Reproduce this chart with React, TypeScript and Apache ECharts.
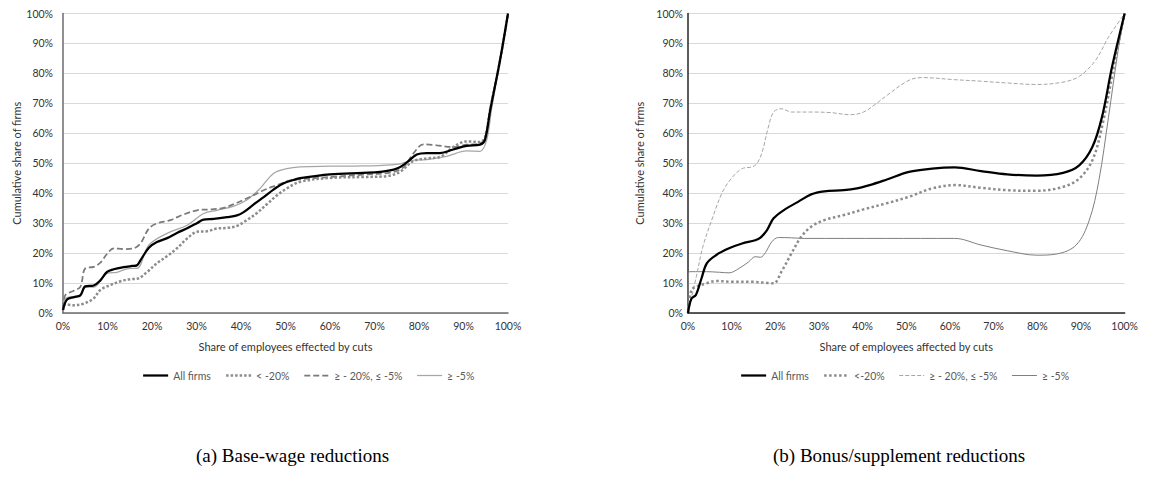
import React, { useEffect, useRef } from "react";
import * as echarts from "echarts";

// Panel (a): base-wage reductions  [share of employees %, cumulative share of firms %]
const baseAllFirms = [[0,1],[0.9,4.5],[2.5,5.3],[3.9,5.9],[5,8.9],[6.9,9.2],[8.4,10.9],[9.9,13.7],[11.4,14.6],[13.6,15.3],[15.5,15.7],[16.6,15.9],[17.4,17.6],[19.3,21.8],[21.1,23.7],[23.4,25],[25.6,26.7],[27.9,28.3],[30.1,30],[31.6,31.2],[33.9,31.4],[36.9,32],[39.1,32.6],[40.6,33.7],[42.8,36.2],[45.1,38.7],[47.3,41.2],[49.6,43.3],[51.8,44.4],[53.3,45],[60,46.3],[67.4,46.8],[71.2,47.1],[75,48.2],[77.2,50.2],[79.5,52.9],[81.7,53.4],[84.7,53.4],[87.7,54.6],[90.7,55.8],[93.7,56.2],[94.8,57.7],[96,67.7],[98.2,84.3],[100,100]];
const baseBelow20 = [[0,1],[0.5,2.9],[2.4,2.6],[4.6,3.1],[6.9,4.9],[8.4,7.7],[10.6,9.3],[12.9,10.6],[15.1,11.3],[16.6,11.4],[18.9,13.7],[21.1,16.6],[23.4,19],[25.6,21.6],[27.9,24.9],[30.1,27.1],[32.4,27.3],[34.6,28.2],[36.9,28.4],[39.1,29.1],[41.3,31],[43.6,33.4],[45.8,36.3],[48.1,39.3],[50.3,41.6],[53.3,43.8],[60,45.1],[67.4,45.4],[72.7,45.7],[75.7,47.1],[78.7,50.7],[81.7,51.6],[84.7,52.1],[87.7,55.4],[90.7,57.3],[93.7,57.1],[94.8,58.5],[96,68],[98.2,84.3],[100,100]];
const baseMid = [[0,1.5],[0.5,5.9],[2.5,7.5],[3.9,8.7],[5,14.9],[6.9,15.4],[8.4,16.8],[9.9,19.7],[11.4,21.6],[13.6,21.3],[15.9,21.6],[17.4,23.2],[19.3,28.2],[21.1,29.9],[24.1,31],[27.1,32.9],[30.1,34.3],[33.1,34.6],[36.1,35.1],[39.1,36.8],[42.1,38.8],[45.1,41],[48.1,42.7],[51.1,44.3],[53.3,44.7],[60,45.4],[67.4,46.2],[73.5,46.9],[76.5,48.6],[78.7,53.2],[81,56.3],[84,56],[87.7,55.4],[90.7,56.2],[93.7,56.6],[94.8,58],[96,68],[98.2,84.3],[100,100]];
const baseAbove5 = [[0,1],[0.5,4.8],[2.5,5.5],[3.9,6],[5,8.6],[6.9,8.6],[9.9,13.2],[12.1,13.6],[15.1,14.9],[16.6,14.9],[19.3,22.7],[23.4,26.6],[27.9,29.3],[31.6,33.2],[34.6,34.3],[38.4,35.7],[41.3,37.7],[44.3,41.6],[47.3,46.6],[50.3,48.2],[53.3,48.8],[60,49],[67.4,49.1],[75,49.6],[78.7,51],[81.7,51.2],[86.2,52.3],[90.7,54.1],[93.7,54],[95.2,57.7],[96.3,68],[98.2,84.3],[100,100]];

// Panel (b): bonus/supplement reductions
const bonusAllFirms = [[0,0],[0.8,4.8],[1.8,6],[3.1,11.6],[4.3,16.6],[6.4,19.3],[9.4,21.6],[12.4,23.2],[15.4,24.3],[16.6,25.2],[18.1,27.7],[19.6,31.6],[22.2,34.6],[25.2,37.1],[28.2,39.6],[31.2,40.6],[35.7,41],[38.7,41.6],[41.6,42.7],[45.4,44.5],[50.6,47.1],[55.9,48.2],[61.1,48.6],[67.1,47.4],[73.1,46.3],[79.9,45.9],[85.9,46.8],[89.6,49.3],[92.6,55.4],[94.8,65.4],[97.1,82.1],[100,100]];
const bonusBelow20 = [[0,0],[0.8,7.7],[1.9,8.8],[4.2,9.9],[6.4,10.7],[10.2,10.4],[14.7,10.4],[17.7,10.1],[19.6,9.9],[21.4,13.8],[23.7,19.9],[25.9,25.4],[28.2,28.8],[31.2,31],[35.7,32.7],[40.2,34.6],[45.4,36.6],[50.6,38.8],[55.9,41.6],[61.1,42.7],[67.1,41.8],[73.1,41],[79.9,40.8],[85.9,42.1],[89.6,44.9],[92.6,51],[94.8,62.1],[97.8,84.3],[100,100]];
const bonusMid = [[0,0],[1.9,12.1],[3.4,22.1],[5.7,32.1],[7.9,40.4],[10.2,45.4],[12.4,48.2],[14.7,48.8],[15.8,49.9],[17,53.8],[18.4,62.1],[19.6,67.1],[21.4,68.2],[23.7,67.1],[28.2,67.1],[32.7,66.9],[37.2,66.2],[40.2,67.1],[43.1,69.9],[45.4,72.5],[50.6,77.7],[53.6,78.6],[61.1,77.9],[67.1,77.4],[73.1,76.8],[79.9,76.3],[85.9,77.1],[89.6,79],[93.3,84.3],[96.3,92.1],[100,100]];
const bonusAbove5 = [[0,0],[0.2,13.8],[4.2,13.8],[7.2,13.6],[9.4,13.4],[11.7,14.9],[13.9,17.1],[15.4,18.8],[16.6,18.6],[17.7,20.1],[19.2,23.8],[20.7,25.2],[23.7,25.1],[26.7,24.9],[45.4,24.9],[61.1,24.9],[67.1,22.7],[73.1,20.8],[79.9,19.3],[84.4,19.7],[88.9,22.7],[91.9,31],[94.1,44.3],[96.3,65.4],[98.5,87.7],[100,100]];

const leftNames = ["All firms", "< -20%", "≥ - 20%, ≤ -5%", "≥ -5%"];
const rightNames = ["All firms", "<-20%", "≥ - 20%, ≤ -5%", "≥ -5%"];
const leftTitleX = "Share of employees effected by cuts";
const rightTitleX = "Share of employees affected by cuts";
const titleY = "Cumulative share of firms";
const captionA = "(a) Base-wage reductions";
const captionB = "(b) Bonus/supplement reductions";

const FONT = "Lato, 'Noto Sans', sans-serif";

const leftStyles = [
  { color: "#000000", width: 2.25, type: "solid" },
  { color: "#8c8c8c", width: 2.5, type: [2.5, 2] },
  { color: "#7a7a7a", width: 1.75, type: [6, 3] },
  { color: "#a6a6a6", width: 1.25, type: "solid" },
];
const rightStyles = [
  { color: "#000000", width: 2.25, type: "solid" },
  { color: "#8c8c8c", width: 2.5, type: [2.5, 2.5] },
  { color: "#a6a6a6", width: 1, type: [4, 2] },
  { color: "#7f7f7f", width: 1, type: "solid" },
];

function xAxis(gridIndex: number, name: string, color: string) {
  return {
    type: "value", gridIndex, min: 0, max: 100, interval: 10,
    name, nameLocation: "middle", nameGap: 28,
    nameTextStyle: { fontFamily: FONT, fontSize: 11, color: "#333333" },
    axisLine: { show: true, lineStyle: { color, width: 1.5 } },
    axisTick: { show: false },
    splitLine: { show: false },
    axisLabel: { formatter: "{value}%", fontFamily: FONT, fontSize: 10.5, color: "#333333", margin: 7 },
  };
}
function yAxis(gridIndex: number, color: string, margin: number, gap: number) {
  return {
    type: "value", gridIndex, min: 0, max: 100, interval: 10,
    name: titleY, nameLocation: "middle", nameGap: gap, nameRotate: 90,
    nameTextStyle: { fontFamily: FONT, fontSize: 11, color: "#333333" },
    axisLine: { show: true, lineStyle: { color, width: 1.5 } },
    axisTick: { show: false },
    splitLine: { show: true, lineStyle: { color: "#d9d9d9", width: 1 } },
    axisLabel: { formatter: "{value}%", fontFamily: FONT, fontSize: 10.5, color: "#333333", margin },
  };
}

export default function App() {
  const ref = useRef<HTMLDivElement>(null);
  useEffect(() => {
    if (!ref.current) return;
    const chart = echarts.init(ref.current, null, { renderer: "svg" });
    const leftData = [baseAllFirms, baseBelow20, baseMid, baseAbove5];
    const rightData = [bonusAllFirms, bonusBelow20, bonusMid, bonusAbove5];
    const series: any[] = [];
    leftData.forEach((d, i) => {
      series.push({
        type: "line", name: leftNames[i], xAxisIndex: 0, yAxisIndex: 0, data: d,
        smooth: 0.35, symbol: "none", showSymbol: false, color: leftStyles[i].color,
        itemStyle: { color: leftStyles[i].color },
        lineStyle: { ...leftStyles[i], cap: "butt" }, z: 10 - i,
      });
    });
    rightData.forEach((d, i) => {
      series.push({
        type: "line", name: rightNames[i], xAxisIndex: 1, yAxisIndex: 1, data: d,
        smooth: 0.35, symbol: "none", showSymbol: false, color: rightStyles[i].color,
        itemStyle: { color: rightStyles[i].color },
        lineStyle: { ...rightStyles[i], cap: "butt" }, z: 10 - i,
      });
    });
    const legendCommon = {
      top: 357, itemWidth: 25, itemHeight: 10, itemGap: 14,
      textStyle: { fontFamily: FONT, fontSize: 10.5, color: "#595959" },
      selectedMode: false,
    };
    const legendItem = (n: string, s: any) => ({
      name: n,
      lineStyle: s,
      itemStyle: { color: s.color, opacity: 0, borderWidth: 0 },
    });
    chart.setOption({
      animation: false,
      grid: [
        { left: 55, top: 5, width: 445, height: 300 },
        { left: 680, top: 5, width: 445, height: 300 },
      ],
      xAxis: [xAxis(0, leftTitleX, "#6b6b6b"), xAxis(1, rightTitleX, "#262626")],
      yAxis: [yAxis(0, "#6b6b6b", 10, 41), yAxis(1, "#262626", 5, 43)],
      legend: [
        { ...legendCommon, left: 129, data: leftNames.map((n, i) => legendItem(n, leftStyles[i])) },
        { ...legendCommon, left: 727, data: rightNames.map((n, i) => legendItem(n, rightStyles[i])) },
      ],
      graphic: [
        { type: "text", left: 290 - 8 - 94, top: 438, style: { text: captionA, font: "19px 'Liberation Serif', serif", fill: "#000" } },
        { type: "text", left: 914 - 8 - 141, top: 438, style: { text: captionB, font: "19px 'Liberation Serif', serif", fill: "#000" } },
      ],
      series,
    });
    return () => chart.dispose();
  }, []);
  return <div ref={ref} style={{ width: 1133, height: 463 }} />;
}
